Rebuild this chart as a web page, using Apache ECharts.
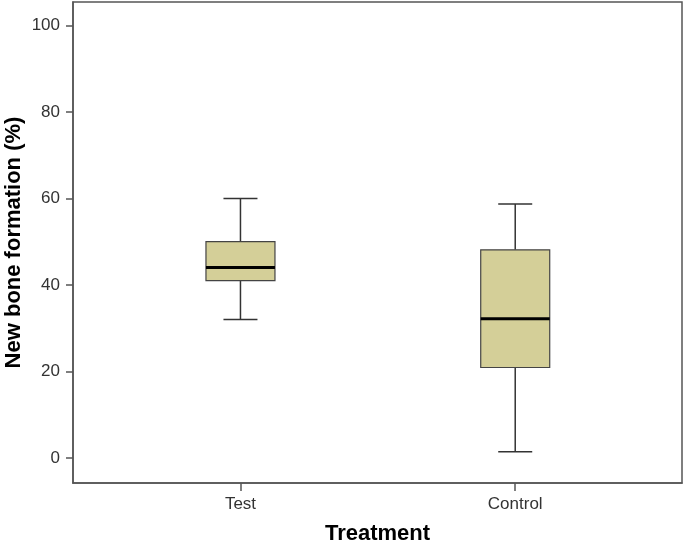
<!DOCTYPE html>
<html>
<head>
<meta charset="utf-8">
<script src="https://cdn.jsdelivr.net/npm/echarts@6/dist/echarts.min.js"></script>
<style>
  html, body { margin: 0; padding: 0; background: #fff; }
  #main { width: 685px; height: 544px; }
</style>
</head>
<body>
<div id="main"></div>
<script>
// data
var categories = ['Test', 'Control'];
var whiskerLow = [32, 1.4];
var q1 = [41, 20.9];
var medians = [44, 32.2];
var q3 = [50, 48.1];
var whiskerHigh = [60, 58.7];
var yTicks = [0, 20, 40, 60, 80, 100];

var boxData = categories.map(function (c, i) {
  return [i + 1, whiskerLow[i], q1[i], medians[i], q3[i], whiskerHigh[i]];
});

var chart = echarts.init(document.getElementById('main'));

function renderBox(params, api) {
  var x = api.value(0);
  var pLow = api.coord([x, api.value(1)]);
  var pQ1 = api.coord([x, api.value(2)]);
  var pMed = api.coord([x, api.value(3)]);
  var pQ3 = api.coord([x, api.value(4)]);
  var pHigh = api.coord([x, api.value(5)]);
  var cx = pLow[0];
  var halfBox = 34.5;
  var halfCap = 17;
  var lineStyle = { stroke: '#333', lineWidth: 1.5 };
  return {
    type: 'group',
    children: [
      { type: 'line', shape: { x1: cx, y1: pHigh[1], x2: cx, y2: pQ3[1] }, style: lineStyle },
      { type: 'line', shape: { x1: cx, y1: pQ1[1], x2: cx, y2: pLow[1] }, style: lineStyle },
      { type: 'line', shape: { x1: cx - halfCap, y1: pHigh[1], x2: cx + halfCap, y2: pHigh[1] }, style: lineStyle },
      { type: 'line', shape: { x1: cx - halfCap, y1: pLow[1], x2: cx + halfCap, y2: pLow[1] }, style: lineStyle },
      {
        type: 'rect',
        shape: { x: cx - halfBox, y: pQ3[1], width: halfBox * 2, height: pQ1[1] - pQ3[1] },
        style: { fill: '#d4cf98', stroke: '#444', lineWidth: 1.2 }
      },
      { type: 'line', shape: { x1: cx - halfBox, y1: pMed[1], x2: cx + halfBox, y2: pMed[1] }, style: { stroke: '#000', lineWidth: 3 } }
    ]
  };
}

var option = {
  animation: false,
  grid: {
    left: 73, right: 3, top: 2, bottom: 61,
    outerBoundsMode: 'none',
    containLabel: false,
    show: true, borderColor: '#555', borderWidth: 1.5, backgroundColor: '#fff'
  },
  xAxis: {
    type: 'value',
    min: 0.3905,
    max: 2.607,
    name: 'Treatment',
    nameLocation: 'middle',
    nameGap: 40,
    nameMoveOverlap: false,
    nameTextStyle: { fontFamily: 'Liberation Sans', fontSize: 22, fontWeight: 'bold', color: '#000' },
    splitLine: { show: false },
    axisLine: { onZero: false, lineStyle: { color: '#555', width: 1.5 } },
    axisTick: { customValues: [1, 2], length: 8, lineStyle: { color: '#555', width: 1.5 } },
    axisLabel: {
      customValues: [1, 2],
      margin: 13,
      fontFamily: 'Liberation Sans', fontSize: 17, color: '#333',
      formatter: function (v) { return categories[Math.round(v) - 1] || ''; }
    }
  },
  yAxis: {
    type: 'value',
    min: -5.8,
    max: 105.4,
    name: 'New bone formation (%)',
    nameLocation: 'middle',
    nameGap: 48,
    nameMoveOverlap: false,
    nameTextStyle: { fontFamily: 'Liberation Sans', fontSize: 22, fontWeight: 'bold', color: '#000' },
    splitLine: { show: false },
    axisLine: { show: true, onZero: false, lineStyle: { color: '#555', width: 1.5 } },
    axisTick: { show: true, customValues: yTicks, length: 7, lineStyle: { color: '#555', width: 1.5 } },
    axisLabel: {
      customValues: yTicks,
      margin: 13,
      fontFamily: 'Liberation Sans', fontSize: 17, color: '#333'
    }
  },
  series: [{
    type: 'custom',
    renderItem: renderBox,
    encode: { x: 0, y: [1, 2, 3, 4, 5] },
    data: boxData
  }]
};

chart.setOption(option);
</script>
</body>
</html>
